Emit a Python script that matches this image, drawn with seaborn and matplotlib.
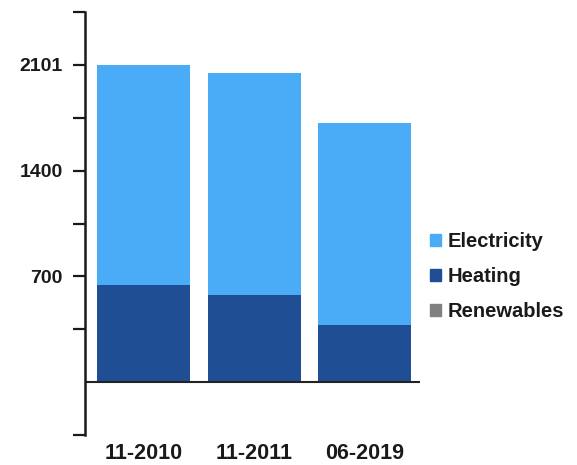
import numpy as np
import pandas as pd
import matplotlib
matplotlib.use("Agg")
import matplotlib.pyplot as plt
import seaborn as sns
from matplotlib.patches import Patch

# ── Data ─────────────────────────────────────────────
periods = ["11-2010", "11-2011", "06-2019"]
electricity = [1457, 1470, 1336]
heating = [644, 576, 380]
renewables = [0, 0, 0]

y_max = 2101
y_step = y_max / 6
# labels shown only on every second tick
y_labels = {2: "700", 4: "1400", 6: "2101"}

col_elec = "#4aabf6"
col_heat = "#1f4e95"
col_renew = "#808080"

df = pd.DataFrame({"period": periods, "electricity": electricity,
                   "heating": heating, "renewables": renewables})
df["total"] = df["electricity"] + df["heating"] + df["renewables"]
df["heat_top"] = df["heating"] + df["renewables"]

sns.set_style("white")
plt.rcParams["font.family"] = ["Liberation Sans", "DejaVu Sans"]

fig = plt.figure(figsize=(5.77, 4.65), dpi=100)
ax = fig.add_axes([0.147, 0.0645, 0.581, 0.9095])

for col, c in [("total", col_elec), ("heat_top", col_heat), ("renewables", col_renew)]:
    sns.barplot(data=df, x="period", y=col, color=c, width=0.84,
                saturation=1, linewidth=0, ax=ax)

ax.set_xlim(-0.53, 2.5)
ax.set_ylim(-y_step, 7 * y_step)
ax.axhline(0, color="#222222", lw=1.5)

for s in ["top", "right", "bottom"]:
    ax.spines[s].set_visible(False)
ax.spines["left"].set_color("#1a1a1a")
ax.spines["left"].set_linewidth(1.8)

# no tick at the zero line
idx = [i for i in range(-1, 8) if i != 0]
ax.set_yticks([i * y_step for i in idx])
ax.set_yticklabels([y_labels.get(i, "") for i in idx],
                   fontsize=14, fontweight="bold", color="#1a1a1a")
ax.tick_params(axis="y", left=True, length=9, width=1.6, color="#1a1a1a", pad=7)
ax.tick_params(axis="x", bottom=False, length=0, pad=6)
for lbl in ax.get_xticklabels():
    lbl.set_fontsize(15.5)
    lbl.set_fontweight("bold")
    lbl.set_color("#1a1a1a")
ax.set_xlabel("")
ax.set_ylabel("")

handles = [Patch(color=col_elec, label="Electricity"),
           Patch(color=col_heat, label="Heating"),
           Patch(color=col_renew, label="Renewables")]
leg = fig.legend(handles=handles, loc="center left", bbox_to_anchor=(0.714, 0.405),
                 frameon=False, handlelength=0.55, handleheight=0.55,
                 handletextpad=0.3, labelspacing=0.8,
                 prop={"size": 14.5, "weight": "bold"})
for t in leg.get_texts():
    t.set_color("#1a1a1a")

fig.savefig("out.png", dpi=100)
